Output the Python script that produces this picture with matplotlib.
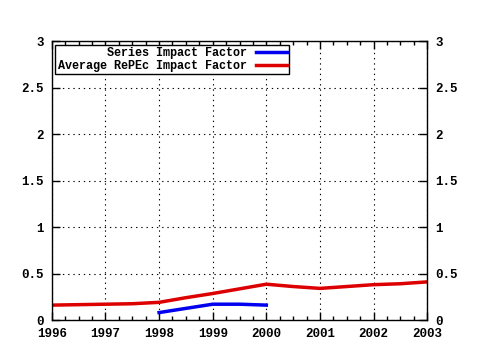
import matplotlib
matplotlib.use('Agg')
import matplotlib.pyplot as plt
from matplotlib.ticker import MultipleLocator

years_avg = [1996, 1996.5, 1997, 1997.5, 1998, 1998.5, 1999, 1999.5, 2000, 2000.5, 2001, 2001.5, 2002, 2002.5, 2003]
avg_if = [0.16, 0.165, 0.17, 0.175, 0.19, 0.24, 0.285, 0.335, 0.385, 0.36, 0.34, 0.36, 0.38, 0.39, 0.41]
years_ser = [1998, 1998.5, 1999, 1999.5, 2000]
series_if = [0.08, 0.125, 0.17, 0.17, 0.16]

plt.rcParams['font.family'] = ['Liberation Mono', 'DejaVu Sans Mono']
plt.rcParams['font.weight'] = 'bold'
plt.rcParams['font.size'] = 8.5

fig = plt.figure(figsize=(4.8, 3.5), dpi=100)
ax = fig.add_axes([0.108, 0.0857, 0.782, 0.797])

ax.plot(years_ser, series_if, color='#0000ee', lw=2.5, label='Series Impact Factor')
ax.plot(years_avg, avg_if, color='#dd0000', lw=2.5, label='Average RePEc Impact Factor')

ax.set_xlim(1996, 2003)
ax.set_ylim(0, 3)
ax.xaxis.set_minor_locator(MultipleLocator(0.25))
ax.set_xticks(range(1996, 2004))
ax.set_xticklabels([str(y) for y in range(1996, 2004)], fontsize=9)
ax.set_yticks([0, 0.5, 1, 1.5, 2, 2.5, 3])
ax.set_yticklabels(['0', '0.5', '1', '1.5', '2', '2.5', '3'], fontsize=9)

ax.grid(True, which='major', color='black', linestyle=(0, (1.2, 3.5)), lw=0.8)
ax.tick_params(which='both', direction='in', top=True, right=True,
               labelright=True, color='black', width=1)
ax.tick_params(which='major', length=6, pad=6)
ax.tick_params(which='minor', length=3)
for s in ax.spines.values():
    s.set_linewidth(1)

leg = ax.legend(loc='upper left', bbox_to_anchor=(0.0, 1.0), frameon=True,
                fancybox=False, edgecolor='black', framealpha=1,
                markerfirst=False, handlelength=2.6, borderpad=0.2,
                labelspacing=0.1, handletextpad=0.8, borderaxespad=0.3)
leg.get_frame().set_linewidth(1)
leg._legend_box.align = 'right'

fig.savefig('out.png', dpi=100)
